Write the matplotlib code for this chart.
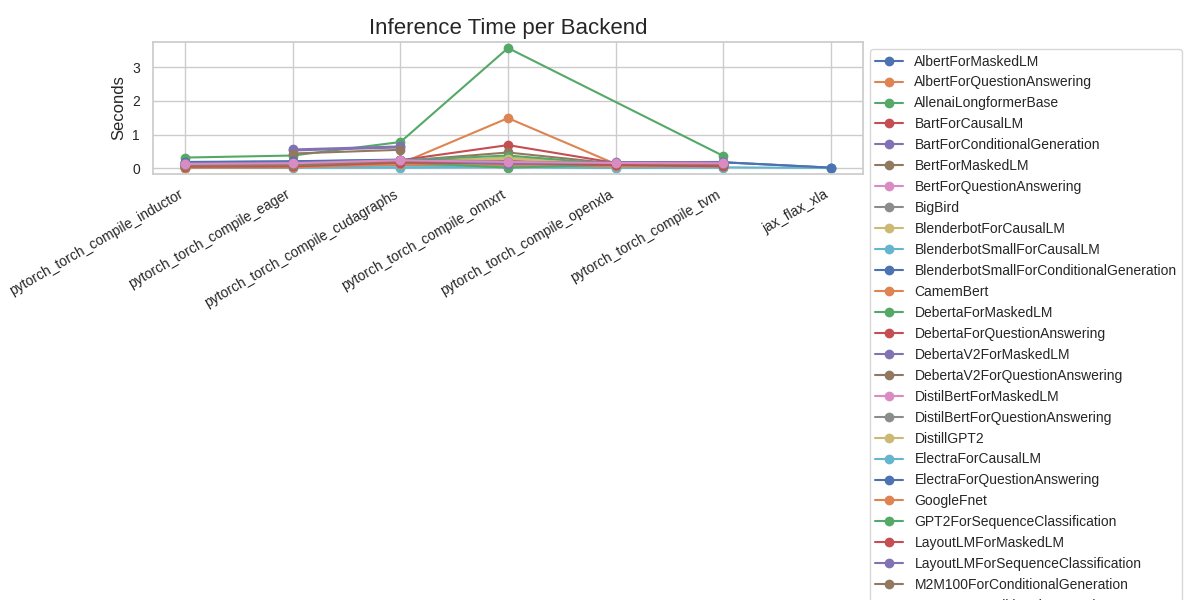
import numpy as np
import matplotlib
matplotlib.use("Agg")
import matplotlib.pyplot as plt
import seaborn as sns

sns.set_theme(style="whitegrid", palette="deep")
plt.rcParams['font.family'] = ['Liberation Sans', 'DejaVu Sans']
plt.rcParams['xtick.labelsize'] = 10
plt.rcParams['ytick.labelsize'] = 10
plt.rcParams['legend.fontsize'] = 10

backends = ["pytorch_torch_compile_inductor", "pytorch_torch_compile_eager",
            "pytorch_torch_compile_cudagraphs", "pytorch_torch_compile_onnxrt",
            "pytorch_torch_compile_openxla", "pytorch_torch_compile_tvm",
            "jax_flax_xla"]

nan = np.nan
# seconds per backend, nan = model not run on that backend
AlbertForMaskedLM = [0.18, 0.20, 0.25, 0.17, 0.17, 0.18, 0.02]
AlbertForQuestionAnswering = [0.03, 0.04, 0.14, 1.49, 0.13, 0.06, nan]
AllenaiLongformerBase = [0.32, 0.38, 0.78, 3.57, nan, 0.37, nan]
BartForCausalLM = [0.14, 0.16, 0.24, 0.69, 0.16, 0.15, nan]
BartForConditionalGeneration = [nan, 0.56, 0.65, nan, nan, nan, nan]
BertForMaskedLM = [0.06, 0.07, 0.22, 0.47, 0.14, 0.12, nan]
BertForQuestionAnswering = [0.05, 0.06, 0.21, 0.25, 0.15, 0.10, nan]
BigBird = [0.09, 0.10, 0.20, 0.20, 0.14, 0.09, nan]
BlenderbotForCausalLM = [0.07, 0.08, 0.19, 0.32, 0.13, 0.08, nan]
BlenderbotSmallForCausalLM = [0.01, 0.02, 0.02, 0.03, 0.01, 0.03, 0.01]
BlenderbotSmallForConditionalGeneration = [0.12, 0.13, 0.23, 0.16, 0.16, 0.17, nan]
CamemBert = [0.04, 0.05, 0.16, 0.12, 0.10, 0.07, nan]
DebertaForMaskedLM = [0.10, 0.12, 0.24, 0.38, 0.12, 0.10, nan]
DebertaForQuestionAnswering = [0.11, 0.12, 0.23, 0.22, 0.14, 0.11, nan]
DebertaV2ForMaskedLM = [nan, 0.53, 0.62, nan, nan, nan, nan]
DebertaV2ForQuestionAnswering = [nan, 0.44, 0.55, nan, nan, nan, nan]
DistilBertForMaskedLM = [0.03, 0.04, 0.12, 0.10, 0.08, 0.05, nan]
DistilBertForQuestionAnswering = [0.02, 0.03, 0.10, 0.09, 0.07, 0.04, nan]
DistillGPT2 = [0.05, 0.06, 0.15, 0.28, 0.10, 0.06, nan]
ElectraForCausalLM = [0.02, 0.03, 0.03, 0.05, 0.02, 0.02, nan]
ElectraForQuestionAnswering = [0.19, 0.21, 0.26, 0.18, 0.17, 0.18, 0.02]
GoogleFnet = [0.02, 0.03, 0.12, 0.08, 0.06, 0.06, nan]
GPT2ForSequenceClassification = [0.06, 0.07, 0.18, 0.02, 0.11, 0.07, nan]
LayoutLMForMaskedLM = [0.05, 0.06, 0.17, 0.15, 0.10, 0.06, nan]
LayoutLMForSequenceClassification = [0.15, 0.17, 0.24, 0.13, 0.18, 0.19, nan]
M2M100ForConditionalGeneration = [0.08, 0.09, 0.21, 0.20, 0.15, 0.14, nan]
MBartForConditionalGeneration = [0.13, 0.15, 0.24, 0.19, 0.16, 0.15, nan]

models = {
    "AlbertForMaskedLM": AlbertForMaskedLM,
    "AlbertForQuestionAnswering": AlbertForQuestionAnswering,
    "AllenaiLongformerBase": AllenaiLongformerBase,
    "BartForCausalLM": BartForCausalLM,
    "BartForConditionalGeneration": BartForConditionalGeneration,
    "BertForMaskedLM": BertForMaskedLM,
    "BertForQuestionAnswering": BertForQuestionAnswering,
    "BigBird": BigBird,
    "BlenderbotForCausalLM": BlenderbotForCausalLM,
    "BlenderbotSmallForCausalLM": BlenderbotSmallForCausalLM,
    "BlenderbotSmallForConditionalGeneration": BlenderbotSmallForConditionalGeneration,
    "CamemBert": CamemBert,
    "DebertaForMaskedLM": DebertaForMaskedLM,
    "DebertaForQuestionAnswering": DebertaForQuestionAnswering,
    "DebertaV2ForMaskedLM": DebertaV2ForMaskedLM,
    "DebertaV2ForQuestionAnswering": DebertaV2ForQuestionAnswering,
    "DistilBertForMaskedLM": DistilBertForMaskedLM,
    "DistilBertForQuestionAnswering": DistilBertForQuestionAnswering,
    "DistillGPT2": DistillGPT2,
    "ElectraForCausalLM": ElectraForCausalLM,
    "ElectraForQuestionAnswering": ElectraForQuestionAnswering,
    "GoogleFnet": GoogleFnet,
    "GPT2ForSequenceClassification": GPT2ForSequenceClassification,
    "LayoutLMForMaskedLM": LayoutLMForMaskedLM,
    "LayoutLMForSequenceClassification": LayoutLMForSequenceClassification,
    "M2M100ForConditionalGeneration": M2M100ForConditionalGeneration,
    "MBartForConditionalGeneration": MBartForConditionalGeneration,
}

fig, ax = plt.subplots(figsize=(12, 6), dpi=100)
fig.subplots_adjust(left=153/1200, right=863/1200, top=1-42/600, bottom=1-174/600)

pos = np.arange(len(backends))
for name, vals in models.items():
    vals = np.array(vals, dtype=float)
    ok = ~np.isnan(vals)
    # missing backends are skipped, so the line joins the neighbours
    ax.plot(pos[ok], vals[ok], marker='o', label=name)

ax.set_xticks(pos)
ax.set_xticklabels(backends, rotation=30, ha='right')
ax.set_ylabel("Seconds")
ax.set_title("Inference Time per Backend", fontsize=16)
ax.legend(bbox_to_anchor=(1, 1), loc='upper left')

fig.savefig("out.png")
